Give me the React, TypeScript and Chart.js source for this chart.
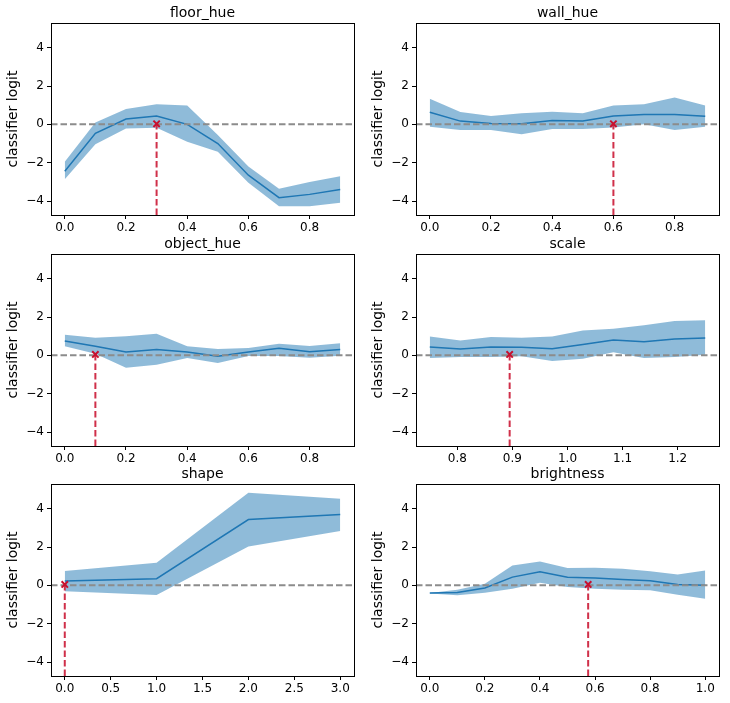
import React, { useEffect, useRef } from "react";
import { Chart, registerables } from "chart.js";

Chart.register(...registerables);

// ---------- data ----------
const hueX = [0, 0.1, 0.2, 0.3, 0.4, 0.5, 0.6, 0.7, 0.8, 0.9];

const floorMean = [-2.44, -0.47, 0.28, 0.44, 0.0, -1.0, -2.65, -3.82, -3.65, -3.4];
const floorUpper = [-1.95, 0.1, 0.8, 1.05, 0.98, -0.56, -2.2, -3.35, -3.0, -2.7];
const floorLower = [-2.86, -1.03, -0.21, -0.17, -0.9, -1.43, -3.05, -4.27, -4.27, -4.08];

const wallMean = [0.63, 0.17, 0.05, 0.03, 0.2, 0.17, 0.44, 0.52, 0.52, 0.42];
const wallUpper = [1.33, 0.65, 0.44, 0.58, 0.66, 0.58, 0.98, 1.05, 1.4, 0.98];
const wallLower = [-0.12, -0.3, -0.3, -0.52, -0.24, -0.24, -0.16, 0.0, -0.3, -0.12];

const objectMean = [0.75, 0.47, 0.17, 0.31, 0.17, -0.05, 0.17, 0.37, 0.19, 0.3];
const objectUpper = [1.08, 0.92, 1.0, 1.13, 0.47, 0.33, 0.38, 0.61, 0.49, 0.63];
const objectLower = [0.47, 0.09, -0.64, -0.49, -0.14, -0.4, -0.03, -0.03, -0.12, -0.02];

const scaleX = [0.75, 0.8056, 0.8611, 0.9167, 0.9722, 1.0278, 1.0833, 1.1389, 1.1944, 1.25];
const scaleMean = [0.43, 0.33, 0.43, 0.42, 0.35, 0.57, 0.8, 0.71, 0.85, 0.9];
const scaleUpper = [0.99, 0.78, 0.96, 0.92, 0.99, 1.3, 1.39, 1.57, 1.79, 1.83];
const scaleLower = [-0.14, -0.09, -0.09, -0.05, -0.3, -0.17, 0.16, -0.14, -0.09, 0.03];

const shapeX = [0, 1, 2, 3];
const shapeMean = [0.23, 0.35, 3.43, 3.7];
const shapeUpper = [0.75, 1.18, 4.83, 4.52];
const shapeLower = [-0.31, -0.5, 2.03, 2.83];

const brightX = [0, 0.1, 0.2, 0.3, 0.4, 0.5, 0.6, 0.7, 0.8, 0.9, 1.0];
const brightMean = [-0.4, -0.37, -0.14, 0.43, 0.71, 0.42, 0.38, 0.31, 0.24, 0.05, 0.0];
const brightUpper = [-0.4, -0.23, 0.09, 1.04, 1.25, 0.9, 0.92, 0.87, 0.73, 0.57, 0.78];
const brightLower = [-0.43, -0.52, -0.38, -0.17, 0.14, -0.09, -0.17, -0.23, -0.26, -0.49, -0.7];

const titles = ["floor_hue", "wall_hue", "object_hue", "scale", "shape", "brightness"];
const markerX = [0.3, 0.6, 0.1, 0.895, 0.0, 0.575];
const markerY = [0.03, 0.03, 0.05, 0.05, 0.05, 0.05];

const hueTicks = [0, 0.2, 0.4, 0.6, 0.8];
const scaleTicks = [0.8, 0.9, 1.0, 1.1, 1.2];
const shapeTicks = [0, 0.5, 1, 1.5, 2, 2.5, 3];
const brightTicks = [0, 0.2, 0.4, 0.6, 0.8, 1.0];
const yTicks = [-4, -2, 0, 2, 4];

const yLabel = "classifier logit";

// ---------- panel table ----------
const panels = [
  { x: hueX, mean: floorMean, upper: floorUpper, lower: floorLower, ticks: hueTicks },
  { x: hueX, mean: wallMean, upper: wallUpper, lower: wallLower, ticks: hueTicks },
  { x: hueX, mean: objectMean, upper: objectUpper, lower: objectLower, ticks: hueTicks },
  { x: scaleX, mean: scaleMean, upper: scaleUpper, lower: scaleLower, ticks: scaleTicks },
  { x: shapeX, mean: shapeMean, upper: shapeUpper, lower: shapeLower, ticks: shapeTicks },
  { x: brightX, mean: brightMean, upper: brightUpper, lower: brightLower, ticks: brightTicks },
].map((p, i) => ({ ...p, title: titles[i], mx: markerX[i], my: markerY[i] }));

const allY = panels.flatMap((p) => [...p.upper, ...p.lower, ...p.mean]);
const gMin = Math.min(...allY);
const gMax = Math.max(...allY);
const Y_MIN = gMin - (gMax - gMin) * 0.05;
const Y_MAX = gMax + (gMax - gMin) * 0.05;

const FONT = "'DejaVu Sans', sans-serif";
const W = 365;
const H = 240;

const fmtY = (v: number) => (v < 0 ? "\u2212" + Math.abs(v) : String(v));

const decorPlugin = {
  id: "decor",
  afterDraw(chart: any) {
    const { ctx, chartArea } = chart;
    const { left, top, right, bottom } = chartArea;
    const title = chart.options.plugins.decor.title;
    ctx.save();
    ctx.strokeStyle = "#000";
    ctx.lineWidth = 1;
    ctx.strokeRect(Math.round(left) + 0.5, Math.round(top) + 0.5, Math.round(right - left), Math.round(bottom - top));
    ctx.fillStyle = "#000";
    ctx.font = `14px ${FONT}`;
    ctx.textAlign = "center";
    ctx.textBaseline = "alphabetic";
    ctx.fillText(title, (left + right) / 2, top - 6);
    ctx.translate(13, (top + bottom) / 2);
    ctx.rotate(-Math.PI / 2);
    ctx.textBaseline = "middle";
    ctx.fillText(yLabel, 0, 0);
    ctx.restore();
  },
};

function Panel({ p, left, top }: { p: any; left: number; top: number }) {
  const ref = useRef<HTMLCanvasElement>(null);
  useEffect(() => {
    const xs: number[] = p.x;
    const span = xs[xs.length - 1] - xs[0];
    const xMin = xs[0] - span * 0.05;
    const xMax = xs[xs.length - 1] + span * 0.05;
    const pts = (ys: number[]) => xs.map((x, i) => ({ x, y: ys[i] }));
    const chart = new Chart(ref.current!, {
      type: "line",
      data: {
        datasets: [
          {
            data: pts(p.upper),
            borderWidth: 0,
            pointRadius: 0,
            fill: "+1",
            backgroundColor: "rgba(31,119,180,0.5)",
            borderColor: "rgba(0,0,0,0)",
            order: 10,
          },
          {
            data: pts(p.lower),
            borderWidth: 0,
            pointRadius: 0,
            fill: false,
            borderColor: "rgba(0,0,0,0)",
            order: 9,
          },
          {
            data: pts(p.mean),
            borderWidth: 1.5,
            borderColor: "#1f77b4",
            pointRadius: 0,
            fill: false,
            order: 5,
          },
          {
            data: [
              { x: xMin, y: 0 },
              { x: xMax, y: 0 },
            ],
            borderWidth: 2,
            borderColor: "#8c8c8c",
            borderDash: [6.5, 3],
            pointRadius: 0,
            fill: false,
            order: 4,
          },
          {
            data: [
              { x: p.mx, y: Y_MIN },
              { x: p.mx, y: p.my },
            ],
            borderWidth: 2,
            borderColor: "#d0304a",
            borderDash: [6.5, 3],
            pointRadius: 0,
            fill: false,
            order: 3,
          },
          {
            data: [{ x: p.mx, y: p.my }],
            showLine: false,
            pointStyle: "crossRot",
            pointRadius: 4.5,
            pointBorderWidth: 2,
            pointBorderColor: "#c8102e",
            pointBackgroundColor: "#c8102e",
            borderColor: "#c8102e",
            order: 1,
          },
        ],
      },
      options: {
        animation: false,
        responsive: false,
        devicePixelRatio: 1,
        events: [],
        layout: { padding: { left: 0, right: 11, top: 23, bottom: 0 } },
        elements: { line: { tension: 0 } },
        plugins: {
          legend: { display: false },
          tooltip: { enabled: false },
          title: { display: false },
          decor: { title: p.title },
        } as any,
        scales: {
          x: {
            type: "linear",
            min: xMin,
            max: xMax,
            grid: { display: true, drawOnChartArea: false, drawTicks: true, tickLength: 4, color: "#000", lineWidth: 1 },
            border: { display: false },
            ticks: {
              padding: 2,
              color: "#000",
              font: { family: FONT, size: 12 },
              maxRotation: 0,
              autoSkip: false,
              callback: (v: any) => Number(v).toFixed(1),
            },
            afterBuildTicks: (s: any) => {
              s.ticks = p.ticks.map((v: number) => ({ value: v }));
            },
            afterFit: (s: any) => {
              s.height = H - 215;
            },
          },
          y: {
            type: "linear",
            min: Y_MIN,
            max: Y_MAX,
            grid: { display: true, drawOnChartArea: false, drawTicks: true, tickLength: 4, color: "#000", lineWidth: 1 },
            border: { display: false },
            ticks: {
              padding: 3,
              color: "#000",
              font: { family: FONT, size: 12 },
              autoSkip: false,
              callback: (v: any) => fmtY(Number(v)),
            },
            afterBuildTicks: (s: any) => {
              s.ticks = yTicks.map((v) => ({ value: v }));
            },
            afterFit: (s: any) => {
              s.width = 51;
            },
          },
        },
      },
      plugins: [decorPlugin],
    } as any);
    return () => chart.destroy();
  }, []);
  return (
    <canvas
      ref={ref}
      width={W}
      height={H}
      style={{ position: "absolute", left, top, width: W, height: H }}
    />
  );
}

const rowTops = [0, 231, 461];
const colLefts = [0, 365];

export default function App() {
  return (
    <div style={{ position: "absolute", left: 0, top: 0, width: 730, height: 703, background: "#fff", overflow: "hidden" }}>
      {panels.map((p, i) => (
        <Panel key={i} p={p} left={colLefts[i % 2]} top={rowTops[Math.floor(i / 2)]} />
      ))}
    </div>
  );
}
